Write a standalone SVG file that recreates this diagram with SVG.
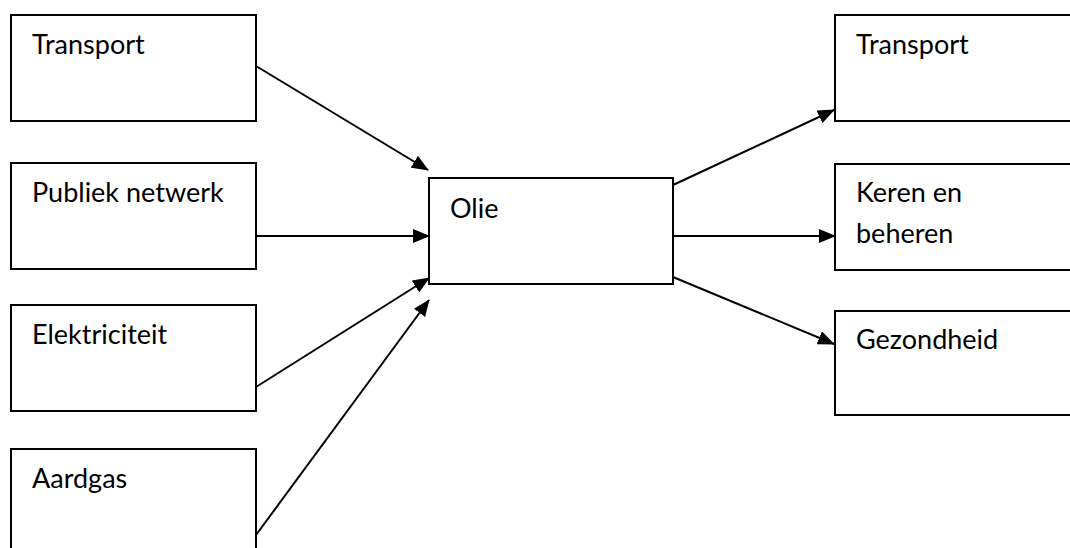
<svg xmlns="http://www.w3.org/2000/svg" width="1070" height="548" viewBox="0 0 1070 548">
  <style>
    .box { fill: #ffffff; stroke: #000000; stroke-width: 2; }
    .lbl { font-family: Lato, "Liberation Sans", sans-serif; font-size: 27px; fill: #000000; }
    .edge { fill: none; stroke: #000000; stroke-width: 2; marker-end: url(#arrow); }
  </style>
  <defs>
    <marker id="arrow" markerUnits="userSpaceOnUse" markerWidth="17" markerHeight="14" refX="16" refY="7" orient="auto">
      <path d="M0,0 L17,7 L0,14 Z" fill="#000000"/>
    </marker>
  </defs>
  <rect width="1070" height="548" fill="#ffffff"/>

  <!-- sources -->
  <g id="src-transport">
    <rect class="box" x="11" y="15" width="245" height="106"/>
    <text class="lbl" x="32" y="54">Transport</text>
  </g>
  <g id="src-publiek">
    <rect class="box" x="11" y="163" width="245" height="106"/>
    <text class="lbl" x="32" y="202">Publiek netwerk</text>
  </g>
  <g id="src-elektriciteit">
    <rect class="box" x="11" y="305" width="245" height="106"/>
    <text class="lbl" x="32" y="344">Elektriciteit</text>
  </g>
  <g id="src-aardgas">
    <rect class="box" x="11" y="449" width="245" height="106"/>
    <text class="lbl" x="32" y="488">Aardgas</text>
  </g>

  <!-- centre -->
  <g id="olie">
    <rect class="box" x="429" y="178" width="244" height="106"/>
    <text class="lbl" x="450" y="218">Olie</text>
  </g>

  <!-- targets -->
  <g id="dst-transport">
    <rect class="box" x="835" y="15" width="245" height="106"/>
    <text class="lbl" x="856" y="54">Transport</text>
  </g>
  <g id="dst-keren">
    <rect class="box" x="835" y="164" width="245" height="106"/>
    <text class="lbl" x="856" y="202">Keren en</text>
    <text class="lbl" x="856" y="243">beheren</text>
  </g>
  <g id="dst-gezondheid">
    <rect class="box" x="835" y="311" width="245" height="104"/>
    <text class="lbl" x="856" y="349">Gezondheid</text>
  </g>

  <!-- connectors -->
  <g id="connectors">
    <line class="edge" x1="256" y1="66" x2="428" y2="170"/>
    <line class="edge" x1="256" y1="236" x2="429" y2="236"/>
    <line class="edge" x1="256" y1="387" x2="429" y2="278"/>
    <line class="edge" x1="256" y1="535" x2="429" y2="300"/>
    <line class="edge" x1="673" y1="185" x2="834" y2="110"/>
    <line class="edge" x1="673" y1="236" x2="835" y2="236"/>
    <line class="edge" x1="673" y1="277" x2="834" y2="344"/>
  </g>
</svg>
